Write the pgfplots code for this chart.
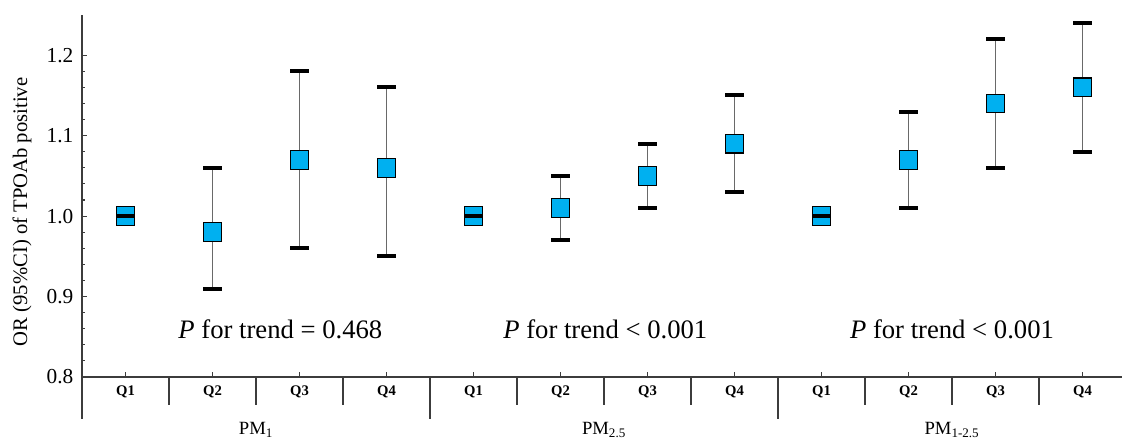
\documentclass[border=0pt]{standalone}
\usepackage{pgfplots}
\usepackage{pgfplotstable}
\usepackage{fontspec}
\setmainfont{Liberation Serif}
\pgfplotsset{compat=1.18}
\definecolor{mk}{RGB}{0,176,240}
\definecolor{eb}{RGB}{105,105,105}
\definecolor{ax}{RGB}{60,60,60}
\pgfplotstableread{
x y ep em
1 0.98 0.08 0.07
2 1.07 0.11 0.11
3 1.06 0.10 0.11
5 1.01 0.04 0.04
6 1.05 0.04 0.04
7 1.09 0.06 0.06
9 1.07 0.06 0.06
10 1.14 0.08 0.08
11 1.16 0.08 0.08
}\ci
\pgfplotstableread{
x y
0 1.00
1 0.98
2 1.07
3 1.06
4 1.00
5 1.01
6 1.05
7 1.09
8 1.00
9 1.07
10 1.14
11 1.16
}\pts
\pgfplotstableread{
x y
0 1.00
4 1.00
8 1.00
}\refs
\begin{document}
\begin{tikzpicture}
\begin{axis}[
  scale only axis,
  width=780pt, height=271.5pt,
  xmin=-0.5, xmax=11.454,
  ymin=0.8, ymax=1.25,
  clip=false,
  axis x line*=bottom, axis y line*=left,
  axis line style={ax, line width=1pt, -},
  tick align=inside,
  major tick length=4pt, minor tick length=2.5pt,
  tick style={ax, line width=0.8pt},
  xtick={0,...,11},
  xticklabels={Q1,Q2,Q3,Q4,Q1,Q2,Q3,Q4,Q1,Q2,Q3,Q4},
  xticklabel style={anchor=center, yshift=-11.25pt, font=\fontsize{11}{12}\selectfont\bfseries},
  ytick={0.8,0.9,1.0,1.1,1.2},
  minor y tick num=4,
  yticklabel style={/pgf/number format/fixed, /pgf/number format/precision=1, /pgf/number format/fixed zerofill, /pgf/number format/assume math mode=true, font=\fontsize{16}{18}\selectfont, xshift=-3pt},
  ylabel={OR (95\%CI) of TPOAb positive},
  ylabel style={at={(axis description cs:0,0.456)}, anchor=center, yshift=45pt, font=\fontsize{15.5}{18}\selectfont},
]
\addplot[only marks, mark=none, forget plot,
  error bars/.cd, y dir=both, y explicit,
  error mark=|, error mark options={black, line width=3pt, mark size=7pt},
  error bar style={eb, line width=1.4pt}]
  table[x=x, y=y, y error plus=ep, y error minus=em]{\ci};
\addplot[only marks, mark=square*, mark size=7pt, mark options={fill=mk, draw=black, line width=0.9pt}] table[x=x,y=y]{\pts};
\addplot[only marks, mark=-, mark size=6.5pt, mark options={black, line width=2.8pt}] table[x=x,y=y]{\refs};
\pgfplotsinvokeforeach{0.5,1.5,2.5,4.5,5.5,6.5,8.5,9.5,10.5}{
  \draw[ax, line width=1.2pt] (axis cs:#1,0.8) -- ++(0pt,-21pt);
}
\pgfplotsinvokeforeach{-0.5,3.5,7.5}{
  \draw[ax, line width=1.2pt] (axis cs:#1,0.8) -- ++(0pt,-31.5pt);
}
\node[font=\fontsize{14}{18}\selectfont, anchor=center] at (axis cs:1.5,0.8) [yshift=-39.75pt] {PM\textsubscript{1}};
\node[font=\fontsize{14}{18}\selectfont, anchor=center] at (axis cs:5.5,0.8) [yshift=-39.75pt] {PM\textsubscript{2.5}};
\node[font=\fontsize{14}{18}\selectfont, anchor=center] at (axis cs:9.5,0.8) [yshift=-39.75pt] {PM\textsubscript{1-2.5}};
\node[font=\fontsize{20}{22}\selectfont, anchor=base] at (axis cs:1.78,0.848) {\textit{P} for trend = 0.468};
\node[font=\fontsize{20}{22}\selectfont, anchor=base] at (axis cs:5.515,0.848) {\textit{P} for trend < 0.001};
\node[font=\fontsize{20}{22}\selectfont, anchor=base] at (axis cs:9.5,0.848) {\textit{P} for trend < 0.001};
\end{axis}
\pgfresetboundingbox
\useasboundingbox (-61.5pt,-47.25pt) rectangle (780pt,282.75pt);
\end{tikzpicture}
\end{document}
